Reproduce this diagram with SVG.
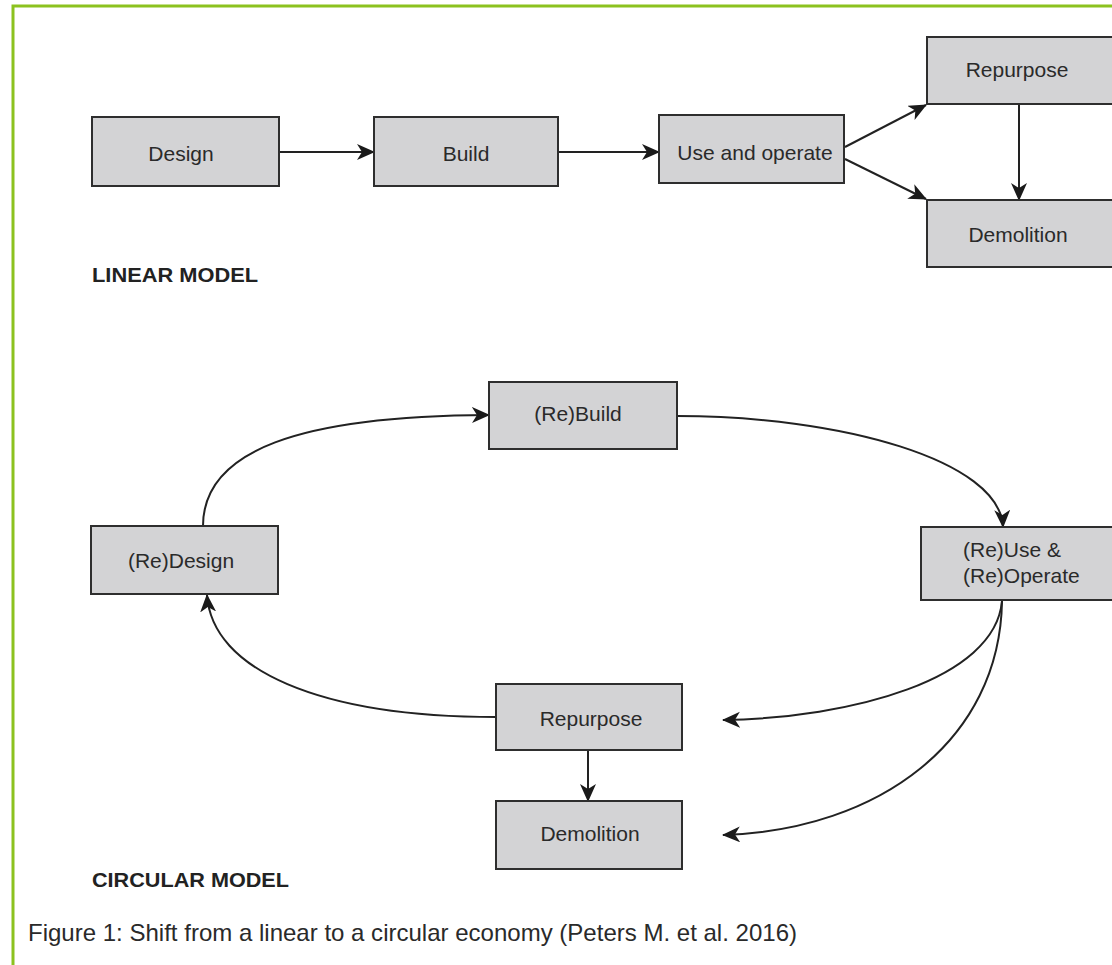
<svg xmlns="http://www.w3.org/2000/svg" width="1112" height="965" viewBox="0 0 1112 965">
<style>
.box{fill:#d3d3d5;stroke:#2e2e2e;stroke-width:2}
.lbl{font-family:"Liberation Sans",Arial,sans-serif;font-size:21px;fill:#2a2a2a}
.ttl{font-family:"Liberation Sans",Arial,sans-serif;font-size:21px;font-weight:bold;fill:#222}
.cap{font-family:"Liberation Sans",Arial,sans-serif;font-size:24px;fill:#2a2a2a}
.con{fill:none;stroke:#222;stroke-width:2;marker-end:url(#ah)}
</style>
<defs>
<marker id="ah" markerUnits="userSpaceOnUse" markerWidth="22" markerHeight="20" refX="17" refY="8" orient="auto">
<path d="M0,0 L18,8 L0,16 L5,8 Z" fill="#1a1a1a"/>
</marker>
</defs>
<rect width="1112" height="965" fill="#ffffff"/>
<path d="M13,965 L13,6 L1112,6" fill="none" stroke="#8cc21f" stroke-width="3"/>

<g id="connectors">
<line class="con" x1="279" y1="152" x2="374" y2="152"/>
<line class="con" x1="558" y1="152" x2="659" y2="152"/>
<line class="con" x1="845" y1="147" x2="926" y2="105"/>
<line class="con" x1="845" y1="159" x2="926" y2="199"/>
<line class="con" x1="1019" y1="104" x2="1019" y2="200"/>
<path class="con" d="M203,526 C203,450 300,416 489,415"/>
<path class="con" d="M677,416 C840,416 1000,460 1003,527"/>
<path class="con" d="M1002,601 C995,680 850,718 723,720"/>
<path class="con" d="M1002,601 C1000,740 880,830 723,835"/>
<path class="con" d="M496,717 C320,717 212,670 207,595"/>
<line class="con" x1="588" y1="750" x2="588" y2="801"/>
</g>

<g id="design"><rect class="box" x="92" y="117" width="187" height="69"/><text class="lbl" x="181" y="161" text-anchor="middle">Design</text></g>
<g id="build"><rect class="box" x="374" y="117" width="184" height="69"/><text class="lbl" x="466" y="161" text-anchor="middle">Build</text></g>
<g id="use-operate"><rect class="box" x="659" y="115" width="185" height="68"/><text class="lbl" x="755" y="160" text-anchor="middle">Use and operate</text></g>
<g id="repurpose-linear"><rect class="box" x="927" y="37" width="186" height="67"/><text class="lbl" x="1017" y="77" text-anchor="middle">Repurpose</text></g>
<g id="demolition-linear"><rect class="box" x="927" y="200" width="186" height="67"/><text class="lbl" x="1018" y="242" text-anchor="middle">Demolition</text></g>
<text class="ttl" x="92" y="282" textLength="166" lengthAdjust="spacingAndGlyphs">LINEAR MODEL</text>

<g id="rebuild"><rect class="box" x="489" y="382" width="188" height="67"/><text class="lbl" x="578" y="421" text-anchor="middle">(Re)Build</text></g>
<g id="redesign"><rect class="box" x="91" y="526" width="187" height="68"/><text class="lbl" x="181" y="568" text-anchor="middle">(Re)Design</text></g>
<g id="reuse-reoperate"><rect class="box" x="921" y="527" width="192" height="73"/><text class="lbl" x="963" y="557">(Re)Use &amp;</text><text class="lbl" x="963" y="583">(Re)Operate</text></g>
<g id="repurpose-circular"><rect class="box" x="496" y="684" width="186" height="66"/><text class="lbl" x="591" y="726" text-anchor="middle">Repurpose</text></g>
<g id="demolition-circular"><rect class="box" x="496" y="801" width="186" height="68"/><text class="lbl" x="590" y="841" text-anchor="middle">Demolition</text></g>
<text class="ttl" x="92" y="887" textLength="197" lengthAdjust="spacingAndGlyphs">CIRCULAR MODEL</text>

<text class="cap" x="28" y="941" textLength="769" lengthAdjust="spacingAndGlyphs">Figure 1: Shift from a linear to a circular economy (Peters M. et al. 2016)</text>
</svg>
